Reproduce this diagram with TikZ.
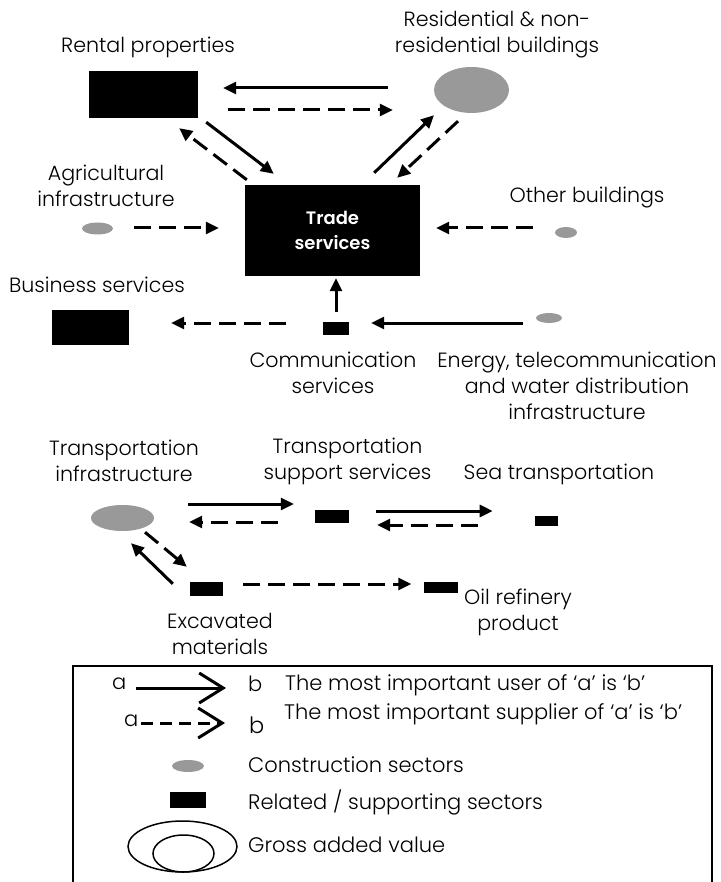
\documentclass[tikz,border=0pt]{standalone}
\usepackage{fontspec}
\setmainfont{Poppins}[UprightFont=* Light, BoldFont=* SemiBold]
\usetikzlibrary{arrows.meta,shapes.geometric}

\definecolor{consgrey}{HTML}{999999}

\tikzset{
  relsec/.style={rectangle, fill=black, inner sep=0pt},
  consec/.style={ellipse, fill=consgrey, inner sep=0pt},
  lbl/.style={font=\fontsize{20.6}{26}\selectfont, align=center, inner sep=0pt},
  keytxt/.style={font=\fontsize{21}{24}\selectfont, anchor=west, inner sep=0pt},
  usr/.style={line width=3pt, -{Triangle[length=13pt,width=12pt]}},
  sup/.style={usr, dash pattern=on 17pt off 8pt},
  usrkey/.style={line width=3pt, -{Straight Barb[length=24pt,width=30pt]}},
  supkey/.style={usrkey, dash pattern=on 12pt off 7pt}
}

\begin{document}
\begin{tikzpicture}[x=1pt,y=-1pt]
    \useasboundingbox (0,0) rectangle (720,882);

    % sectors
    \node[relsec, minimum width=109pt, minimum height=47pt] (rental) at (143.5,94.5) {};
    \node[consec, minimum width=75pt, minimum height=46pt] (resid) at (471.5,90) {};
    \node[relsec, minimum width=175pt, minimum height=91pt, text=white, align=center,
          font=\fontsize{18}{25}\selectfont\bfseries] (trade) at (332.5,230.5) {Trade\\services};
    \node[consec, minimum width=31pt, minimum height=12pt] (agri) at (97.5,228.5) {};
    \node[consec, minimum width=22pt, minimum height=11pt] (other) at (566,232.5) {};
    \node[relsec, minimum width=77pt, minimum height=35pt] (business) at (90.5,327.5) {};
    \node[relsec, minimum width=26pt, minimum height=13pt] (comm) at (336,328.5) {};
    \node[consec, minimum width=26pt, minimum height=10pt] (energy) at (549,318) {};
    \node[consec, minimum width=63pt, minimum height=26pt] (transinf) at (122.5,518) {};
    \node[relsec, minimum width=34pt, minimum height=13pt] (tss) at (332,516.5) {};
    \node[relsec, minimum width=23pt, minimum height=10pt] (sea) at (546,521) {};
    \node[relsec, minimum width=33pt, minimum height=14pt] (excav) at (206.5,589) {};
    \node[relsec, minimum width=34pt, minimum height=11pt] (oil) at (441,587.5) {};

    % labels
    \node[lbl] (rentallbl) at (148,47) {Rental properties};
    \node[lbl] (residlbl) at (497,35) {Residential \& non-\\residential buildings};
    \node[lbl] (agrilbl) at (106,186) {Agricultural\\infrastructure};
    \node[lbl] (otherlbl) at (587,198) {Other buildings};
    \node[lbl] (businesslbl) at (97,285) {Business services};
    \node[lbl] (commlbl) at (333,373) {Communication\\services};
    \node[lbl] (energylbl) at (577,386) {Energy, telecommunication\\and water distribution\\infrastructure};
    \node[lbl] (transinflbl) at (124,461) {Transportation\\infrastructure};
    \node[lbl] (tsslbl) at (347.5,461) {Transportation\\support services};
    \node[lbl] (sealbl) at (559,474) {Sea transportation};
    \node[lbl] (excavlbl) at (220,634) {Excavated\\materials};
    \node[lbl] (oillbl) at (518,612) {Oil refinery\\product};

    % users (solid) and suppliers (dashed)
    \draw[usr] ([shift={(-46,-2)}]resid.west) -- ([shift={(25,-6.5)}]rental.east);
    \draw[sup] ([shift={(30,15.5)}]rental.east) -- ([shift={(-41,20)}]resid.west);
    \draw[usr] ([shift={(8,4)}]rental.south east) -- ([shift={(29,-11)}]trade.north west);
    \draw[sup] ([shift={(2,-5)}]trade.north west) -- ([shift={(-19,10)}]rental.south east);
    \draw[usr] ([shift={(-46,-12)}]trade.north east) -- ([shift={(-37.5,2)}]resid.south);
    \draw[sup] ([shift={(-13.5,8)}]resid.south) -- ([shift={(-23,-7)}]trade.north east);
    \draw[sup] ([shift={(21,-0.5)}]agri.east) -- ([shift={(-26,-2.5)}]trade.west);
    \draw[sup] ([shift={(-22,-4.5)}]other.west) -- ([shift={(16,-2.5)}]trade.east);
    \draw[usr] ([yshift=10pt]comm.north) -- ([yshift=-2pt]comm.north |- trade.south);
    \draw[sup] ([shift={(-36.6,-5.5)}]comm.west) -- ([shift={(42,-4.5)}]business.east);
    \draw[usr] ([shift={(-13,5)}]energy.west) -- ([shift={(22,-5.5)}]comm.east);
    \draw[usr] ([shift={(34,-14)}]transinf.east) -- ([shift={(-21,-12.5)}]tss.west);
    \draw[sup] ([shift={(-37,5.5)}]tss.west) -- ([shift={(35,4)}]transinf.east);
    \draw[usr] ([shift={(26.6,-5.5)}]tss.east) -- ([shift={(-41.6,-10)}]sea.west);
    \draw[sup] ([shift={(-56.6,4)}]sea.west) -- ([shift={(28,8.5)}]tss.east);
    \draw[sup] ([shift={(22.5,1)}]transinf.south) -- ([shift={(-3,-15)}]excav.north west);
    \draw[usr] ([shift={(-17,2)}]excav.north west) -- ([shift={(8.5,12)}]transinf.south);
    \draw[sup] ([shift={(20,-5)}]excav.east) -- ([shift={(-12.5,-3.5)}]oil.west);

    % legend
    \draw[line width=1.5pt] (73,882) -- (73,666) -- (712,666) -- (712,882);
    \node[keytxt] (usrkeya) at (112,684) {a};
    \node[keytxt] (usrkeyb) at (248,684) {b};
    \coordinate (usrstart) at (136,688);
    \coordinate (usrend) at (226,688);
    \draw[usrkey] (usrstart) -- (usrend);
    \node[keytxt] (usrkeytxt) at (285,685) {The most important user of ‘a’ is ‘b’};
    \node[keytxt] (supkeya) at (124,721) {a};
    \node[keytxt, font=\fontsize{22.5}{26}\selectfont] (supkeyb) at (249,725) {b};
    \coordinate (supstart) at (141,723);
    \coordinate (supend) at (225,723);
    \draw[supkey] (supstart) -- (supend);
    \node[keytxt] (supkeytxt) at (284,714) {The most important supplier of ‘a’ is ‘b’};
    \node[consec, minimum width=32pt, minimum height=12pt] (conskey) at (188,766) {};
    \node[keytxt] (conskeytxt) at (248,765) {Construction sectors};
    \node[relsec, minimum width=36pt, minimum height=16pt] (relkey) at (188,800) {};
    \node[keytxt] (relkeytxt) at (248,802) {Related / supporting sectors};
    \node[ellipse, draw, line width=1.5pt, minimum width=109pt, minimum height=51pt] (gvaout) at (182.5,846.5) {};
    \node[ellipse, draw, line width=1.5pt, minimum width=61pt, minimum height=37pt] (gvain) at (183.5,853.5) {};
    \node[keytxt] (gvakeytxt) at (248,845) {Gross added value};
\end{tikzpicture}
\end{document}
